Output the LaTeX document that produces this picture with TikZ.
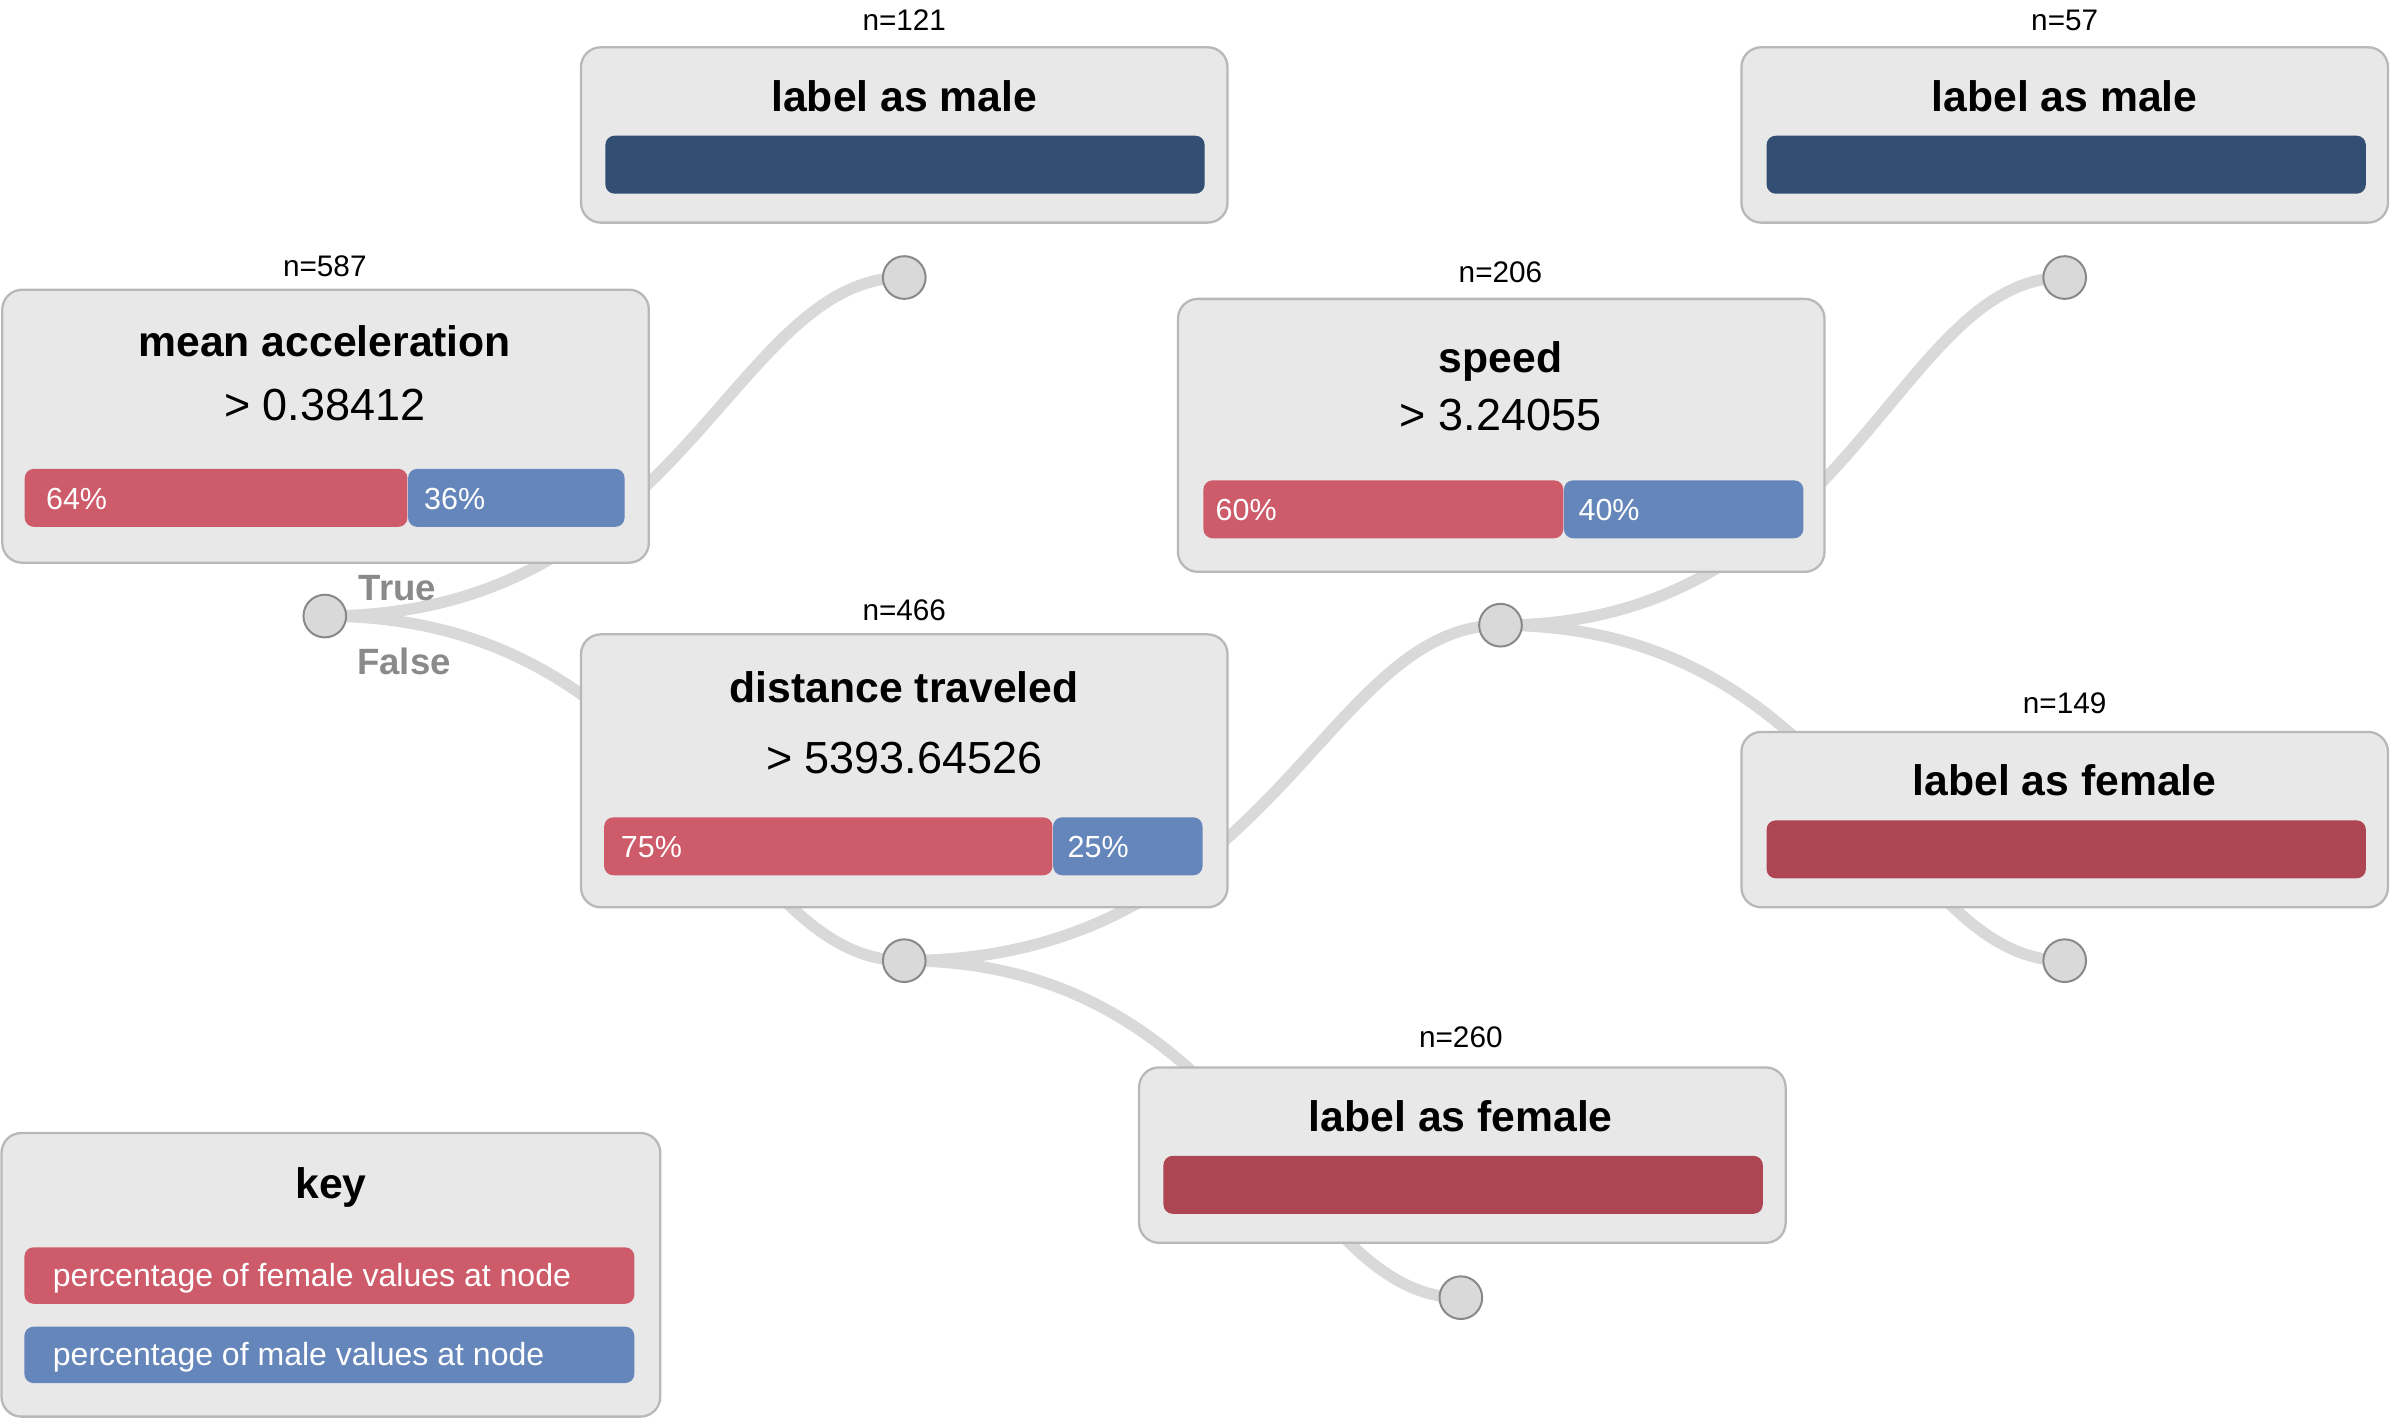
\documentclass[tikz,border=0pt]{standalone}
\usepackage{fontspec}
\setmainfont{Liberation Sans}
\definecolor{boxfill}{HTML}{E8E8E8}
\definecolor{boxline}{HTML}{B8B8B8}
\definecolor{fem}{HTML}{CD5B6A}
\definecolor{mal}{HTML}{6586BA}
\definecolor{maldark}{HTML}{334E73}
\definecolor{femdark}{HTML}{AD4553}
\definecolor{edgecol}{HTML}{D9D9D9}
\definecolor{circline}{HTML}{888888}
\definecolor{tfcol}{HTML}{8A8A8A}
\newcommand{\myfs}[1]{\fontsize{#1}{#1}\selectfont}
\pgfdeclarelayer{bg}
\pgfsetlayers{bg,main}
\begin{document}
\begin{tikzpicture}[x=1pt,y=-1pt,
  panel/.style={rectangle, draw=boxline, line width=1.5pt, fill=boxfill, rounded corners=13pt, minimum width=424pt, inner sep=0pt},
  splitpanel/.style={panel, minimum height=179pt},
  leafpanel/.style={panel, minimum height=115pt},
  bar/.style={rectangle, rounded corners=6pt, inner sep=0pt, minimum height=38pt},
  fembar/.style={bar, fill=fem},
  malbar/.style={bar, fill=mal},
  leafmale/.style={bar, fill=maldark, minimum width=393pt},
  leaffemale/.style={bar, fill=femdark, minimum width=393pt},
  dot/.style={circle, fill=edgecol, draw=circline, line width=1.3pt, minimum size=28pt, inner sep=0pt},
  edge/.style={draw=edgecol, line width=7.5pt},
  ttl/.style={font=\bfseries\myfs{28}, inner sep=0pt, anchor=base},
  cond/.style={font=\myfs{29.5}, inner sep=0pt, anchor=base},
  cnt/.style={font=\myfs{19.5}, inner sep=0pt, anchor=base},
  pct/.style={font=\myfs{20}, text=white, inner sep=0pt, anchor=base west},
  keytxt/.style={font=\myfs{21}, text=white, inner sep=0pt, anchor=base west},
  tf/.style={font=\bfseries\myfs{24}, text=tfcol, inner sep=0pt, anchor=base west}
]
\useasboundingbox (0,0) rectangle (1568,931);

% ---------- boxes ----------
\node[splitpanel] (root) at (213.5,279.5) {};
\node[leafpanel] (male1) at (593,88.5) {};
\node[splitpanel] (speed) at (984.5,285.5) {};
\node[leafpanel] (male2) at (1354,88.5) {};
\node[splitpanel] (dist) at (593,505.5) {};
\node[leafpanel] (fem2) at (1354,537.5) {};
\node[leafpanel] (fem1) at (959,757.5) {};
\node[panel, minimum width=432pt, minimum height=186pt] (key) at (217,836) {};

% ---------- counts ----------
\node[cnt] (n587) at (213,181) {n=587};
\node[cnt] (n121) at (593,20) {n=121};
\node[cnt] (n206) at (984,185) {n=206};
\node[cnt] (n57) at (1354,20) {n=57};
\node[cnt] (n466) at (593,407) {n=466};
\node[cnt] (n149) at (1354,468) {n=149};
\node[cnt] (n260) at (958,687) {n=260};

% ---------- titles ----------
\node[ttl] (t-root) at (213,234) {mean acceleration};
\node[cond] (c-root) at (213,275.5) {> 0.38412};
\node[ttl] (t-male1) at (593,73) {label as male};
\node[ttl] (t-speed) at (984,244) {speed};
\node[cond] (c-speed) at (984,282.5) {> 3.24055};
\node[ttl] (t-male2) at (1354,73) {label as male};
\node[ttl] (t-dist) at (593,461) {distance traveled};
\node[cond] (c-dist) at (593,507) {> 5393.64526};
\node[ttl] (t-fem2) at (1354,522) {label as female};
\node[ttl] (t-fem1) at (958,742) {label as female};
\node[ttl] (t-key) at (217,786) {key};

% ---------- bars ----------
\node[fembar, minimum width=251pt, anchor=west] (rootF) at (16,326.5) {};
\node[malbar, minimum width=142pt, anchor=west] (rootM) at (rootF.east) {};
\node[pct] (p64) at (30,334) {64\%};
\node[pct] (p36) at (278,334) {36\%};

\node[fembar, minimum width=236pt, anchor=west] (speedF) at (789,334) {};
\node[malbar, minimum width=157pt, anchor=west] (speedM) at (speedF.east) {};
\node[pct] (p60) at (797,341.5) {60\%};
\node[pct] (p40) at (1035,341.5) {40\%};

\node[fembar, minimum width=294pt, anchor=west] (distF) at (396,555) {};
\node[malbar, minimum width=98pt, anchor=west] (distM) at (distF.east) {};
\node[pct] (p75) at (407,562.5) {75\%};
\node[pct] (p25) at (700,562.5) {25\%};

\node[leafmale] (bm1) at (593.5,108) {};
\node[leafmale] (bm2) at (1355,108) {};
\node[leaffemale] (bf2) at (1355,557) {};
\node[leaffemale] (bf1) at (959.5,777) {};

% ---------- key ----------
\node[fembar, minimum width=400pt, minimum height=37pt] (keyF) at (216,836.5) {};
\node[malbar, minimum width=400pt, minimum height=37pt] (keyM) at (216,888.5) {};
\node[keytxt] (kf) at (34.5,843.5) {percentage of female values at node};
\node[keytxt] (km) at (34.5,895.5) {percentage of male values at node};

% ---------- decision points ----------
\node[dot] (c0) at (213,404) {};
\node[dot] (c1) at (593,182) {};
\node[dot] (c2) at (984,410) {};
\node[dot] (c3) at (1354,182) {};
\node[dot] (c4) at (593,630) {};
\node[dot] (c5) at (1354,630) {};
\node[dot] (c6) at (958,851) {};

\node[tf] (true) at (235,393.5) {True};
\node[tf] (false) at (234,442.5) {False};

% ---------- connectors ----------
\begin{pgfonlayer}{bg}
\draw[edge] (c0.center) .. controls +(236,0) and +(-114,0) .. (c1.center);
\draw[edge] (c0.center) .. controls +(236,0) and +(-114,0) .. (c4.center);
\draw[edge] (c4.center) .. controls +(242,0) and +(-117,0) .. (c2.center);
\draw[edge] (c4.center) .. controls +(226,0) and +(-110,0) .. (c6.center);
\draw[edge] (c2.center) .. controls +(229,0) and +(-111,0) .. (c3.center);
\draw[edge] (c2.center) .. controls +(229,0) and +(-111,0) .. (c5.center);
\end{pgfonlayer}
\end{tikzpicture}
\end{document}
